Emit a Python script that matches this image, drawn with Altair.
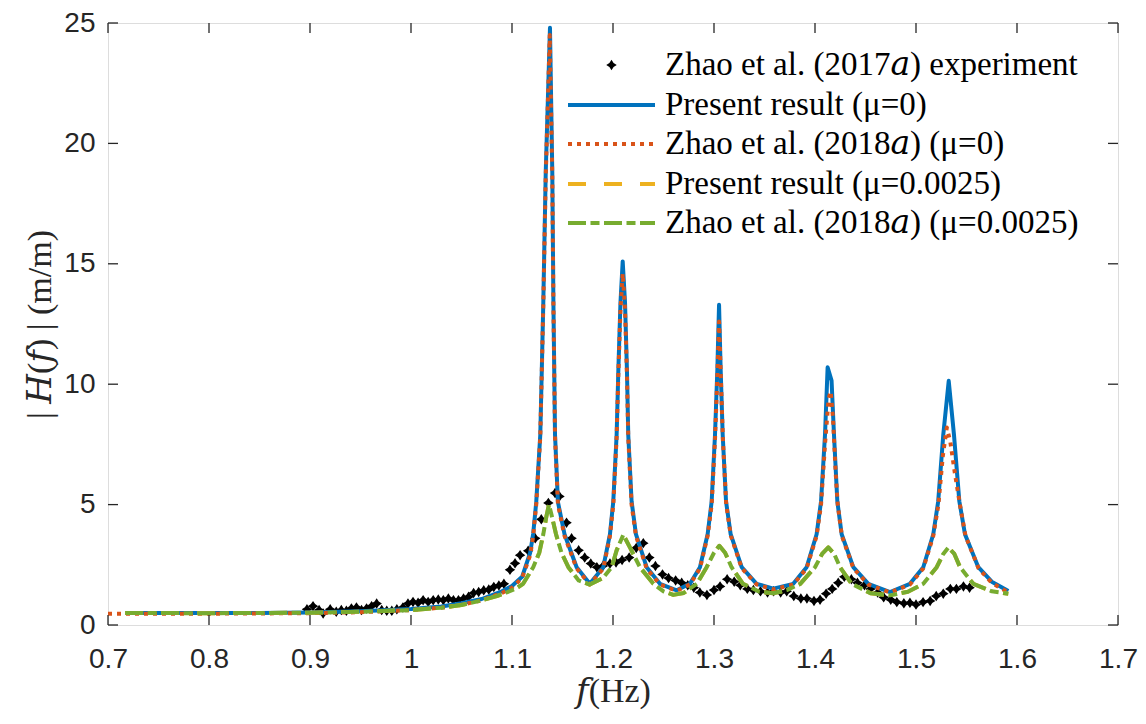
import altair as alt
import pandas as pd

# ---------------- data ----------------
# (f [Hz], |H(f)| [m/m])
experiment_2017a = [
    (0.897, 0.65), (0.903, 0.78), (0.909, 0.62), (0.913, 0.48), (0.920, 0.65), (0.926, 0.55),
    (0.931, 0.62), (0.936, 0.59), (0.941, 0.69), (0.946, 0.73), (0.951, 0.62), (0.956, 0.69),
    (0.961, 0.78), (0.966, 0.89), (0.971, 0.62), (0.976, 0.59), (0.981, 0.59), (0.986, 0.65),
    (0.992, 0.73), (0.997, 0.89), (1.002, 0.96), (1.007, 0.92), (1.012, 1.03), (1.017, 0.96),
    (1.022, 1.03), (1.027, 1.06), (1.032, 1.03), (1.037, 1.10), (1.042, 1.03), (1.047, 1.03),
    (1.052, 1.10), (1.057, 1.17), (1.062, 1.33), (1.067, 1.37), (1.072, 1.44), (1.077, 1.47),
    (1.082, 1.58), (1.087, 1.64), (1.092, 1.71), (1.098, 2.29), (1.103, 2.56), (1.108, 2.90),
    (1.116, 3.08), (1.123, 3.60), (1.129, 4.39), (1.136, 5.07), (1.1426, 5.48), (1.147, 5.34),
    (1.154, 4.25), (1.159, 3.60), (1.166, 3.10), (1.172, 2.80), (1.178, 2.55), (1.184, 2.40),
    (1.190, 2.45), (1.197, 2.55), (1.203, 2.60), (1.209, 2.70), (1.216, 2.80), (1.223, 3.20),
    (1.230, 3.40), (1.236, 2.80), (1.242, 2.45), (1.249, 2.10), (1.255, 1.95), (1.262, 1.85),
    (1.268, 1.75), (1.274, 1.65), (1.280, 1.55), (1.286, 1.35), (1.293, 1.25), (1.300, 1.45),
    (1.306, 1.60), (1.313, 1.90), (1.320, 1.80), (1.326, 1.65), (1.333, 1.50), (1.339, 1.45),
    (1.346, 1.40), (1.353, 1.35), (1.359, 1.40), (1.366, 1.35), (1.372, 1.40), (1.379, 1.20),
    (1.386, 1.10), (1.392, 1.10), (1.399, 1.00), (1.405, 1.05), (1.411, 1.30), (1.417, 1.50),
    (1.423, 1.75), (1.429, 2.00), (1.436, 1.90), (1.442, 1.75), (1.449, 1.65), (1.455, 1.50),
    (1.462, 1.35), (1.468, 1.15), (1.475, 1.05), (1.481, 0.95), (1.488, 0.90), (1.494, 0.92),
    (1.500, 0.85), (1.507, 0.95), (1.514, 1.00), (1.520, 1.20), (1.527, 1.30), (1.534, 1.50),
    (1.540, 1.50), (1.547, 1.60), (1.553, 1.55),
]

present_mu0 = [
    (0.717, 0.50), (0.75, 0.50), (0.80, 0.50), (0.85, 0.50), (0.90, 0.52), (0.95, 0.57),
    (1.00, 0.66), (1.03, 0.77), (1.05, 0.90), (1.07, 1.08), (1.09, 1.40), (1.10, 1.62),
    (1.11, 2.00), (1.118, 3.00), (1.121, 3.80), (1.124, 5.10), (1.128, 7.90), (1.1295, 10.6),
    (1.131, 13.4), (1.1334, 18.8), (1.1376, 24.8), (1.1399, 18.8), (1.141, 13.4), (1.1426, 7.90),
    (1.1455, 5.10), (1.152, 3.77), (1.164, 2.40), (1.177, 1.71), (1.1904, 2.40), (1.197, 3.77),
    (1.2003, 5.14), (1.2036, 7.90), (1.2053, 10.6), (1.2074, 13.4), (1.2096, 15.1), (1.2119, 13.4),
    (1.2138, 10.6), (1.2151, 7.90), (1.2184, 5.14), (1.2227, 3.77), (1.2333, 2.40), (1.2465, 1.71),
    (1.263, 1.44), (1.2762, 1.71), (1.2861, 2.40), (1.2937, 3.77), (1.2977, 5.14), (1.301, 7.90),
    (1.3033, 10.6), (1.305, 13.3), (1.3066, 10.6), (1.3086, 7.90), (1.3119, 5.14), (1.3165, 3.77),
    (1.3274, 2.40), (1.3422, 1.71), (1.3587, 1.51), (1.3785, 1.71), (1.3917, 2.40), (1.4016, 3.77),
    (1.406, 5.14), (1.4099, 7.90), (1.4125, 10.7), (1.4164, 10.15), (1.4188, 7.90), (1.4221, 5.14),
    (1.4264, 3.77), (1.4379, 2.40), (1.4528, 1.71), (1.4743, 1.37), (1.494, 1.71), (1.5072, 2.40),
    (1.5171, 3.77), (1.522, 5.14), (1.527, 7.90), (1.5324, 10.14), (1.5376, 7.90), (1.5429, 5.14),
    (1.5485, 3.77), (1.5617, 2.40), (1.575, 1.80), (1.5914, 1.41),
]

zhao2018a_mu0 = [
    (0.700, 0.47), (0.75, 0.47), (0.80, 0.47), (0.85, 0.48), (0.90, 0.49), (0.95, 0.53),
    (1.00, 0.62), (1.03, 0.72), (1.05, 0.84), (1.07, 1.02), (1.09, 1.33), (1.10, 1.55),
    (1.11, 1.95), (1.118, 2.90), (1.121, 3.70), (1.124, 5.00), (1.128, 7.80), (1.1295, 10.5),
    (1.131, 13.3), (1.1334, 18.6), (1.1374, 24.5), (1.1399, 18.6), (1.141, 13.3), (1.1426, 7.80),
    (1.1455, 5.00), (1.152, 3.70), (1.164, 2.35), (1.177, 1.68), (1.1904, 2.35), (1.197, 3.70),
    (1.2003, 5.00), (1.2036, 7.80), (1.2053, 10.4), (1.2074, 13.1), (1.2096, 14.6), (1.2119, 13.1),
    (1.2138, 10.4), (1.2151, 7.80), (1.2184, 5.00), (1.2227, 3.70), (1.2333, 2.35), (1.2465, 1.68),
    (1.263, 1.42), (1.2762, 1.68), (1.2861, 2.35), (1.2937, 3.70), (1.2977, 5.00), (1.301, 7.70),
    (1.3033, 10.3), (1.305, 12.6), (1.3068, 10.3), (1.3088, 7.70), (1.3121, 5.00), (1.3167, 3.70),
    (1.3276, 2.35), (1.3424, 1.68), (1.3587, 1.48), (1.3785, 1.68), (1.3917, 2.35), (1.4016, 3.70),
    (1.406, 5.00), (1.4099, 7.50), (1.4135, 9.40), (1.4155, 9.70), (1.4178, 8.60), (1.4205, 6.30),
    (1.4225, 5.00), (1.4266, 3.70), (1.4381, 2.35), (1.453, 1.68), (1.4743, 1.35), (1.494, 1.68),
    (1.5072, 2.35), (1.5171, 3.70), (1.5222, 5.00), (1.5265, 7.00), (1.5305, 8.20), (1.534, 7.60),
    (1.5385, 6.30), (1.5435, 5.00), (1.549, 3.70), (1.562, 2.35), (1.575, 1.75), (1.59, 1.38),
]

present_mu0025 = [
    (0.717, 0.50), (0.80, 0.49), (0.90, 0.51), (0.95, 0.55), (1.00, 0.62), (1.03, 0.72),
    (1.05, 0.83), (1.068, 1.00), (1.085, 1.20), (1.0947, 1.35), (1.104, 1.52), (1.111, 1.71),
    (1.121, 2.40), (1.127, 3.00), (1.131, 3.77), (1.134, 4.50), (1.1366, 5.00), (1.139, 4.60),
    (1.1436, 3.77), (1.149, 3.00), (1.1558, 2.40), (1.166, 1.85), (1.177, 1.68), (1.19, 1.95),
    (1.1987, 2.40), (1.2036, 3.10), (1.2102, 3.75), (1.217, 3.20), (1.2267, 2.40), (1.24, 1.71),
    (1.25, 1.40), (1.2597, 1.25), (1.27, 1.33), (1.283, 1.71), (1.2927, 2.40), (1.30, 3.00),
    (1.3053, 3.29), (1.311, 3.00), (1.3174, 2.40), (1.3287, 1.71), (1.345, 1.38), (1.3587, 1.32),
    (1.372, 1.45), (1.3854, 1.71), (1.40, 2.40), (1.407, 2.95), (1.4132, 3.22), (1.419, 2.95),
    (1.4248, 2.40), (1.4363, 1.71), (1.455, 1.32), (1.4743, 1.23), (1.492, 1.38), (1.5072, 1.71),
    (1.5205, 2.40), (1.527, 2.95), (1.5321, 3.22), (1.538, 2.95), (1.5436, 2.40), (1.5568, 1.71),
    (1.575, 1.40), (1.5914, 1.30),
]

zhao2018a_mu0025 = [
    (0.717, 0.50), (0.80, 0.49), (0.90, 0.51), (0.95, 0.55), (1.00, 0.62), (1.03, 0.72),
    (1.05, 0.83), (1.068, 1.00), (1.085, 1.20), (1.0947, 1.35), (1.104, 1.52), (1.111, 1.71),
    (1.121, 2.40), (1.127, 3.00), (1.131, 3.77), (1.134, 4.50), (1.1366, 5.00), (1.139, 4.60),
    (1.1436, 3.77), (1.149, 3.00), (1.1558, 2.40), (1.166, 1.85), (1.177, 1.68), (1.19, 1.95),
    (1.1987, 2.40), (1.2036, 3.10), (1.2102, 3.75), (1.217, 3.20), (1.2267, 2.40), (1.24, 1.71),
    (1.25, 1.40), (1.2597, 1.25), (1.27, 1.33), (1.283, 1.71), (1.2927, 2.40), (1.30, 3.00),
    (1.3053, 3.29), (1.311, 3.00), (1.3174, 2.40), (1.3287, 1.71), (1.345, 1.38), (1.3587, 1.32),
    (1.372, 1.45), (1.3854, 1.71), (1.40, 2.40), (1.407, 2.95), (1.4132, 3.22), (1.419, 2.95),
    (1.4248, 2.40), (1.4363, 1.71), (1.455, 1.32), (1.4743, 1.23), (1.492, 1.38), (1.5072, 1.71),
    (1.5205, 2.40), (1.527, 2.95), (1.5321, 3.22), (1.538, 2.95), (1.5436, 2.40), (1.5568, 1.71),
    (1.575, 1.40), (1.5914, 1.30),
]

x_ticks = [0.7, 0.8, 0.9, 1.0, 1.1, 1.2, 1.3, 1.4, 1.5, 1.6, 1.7]
y_ticks = [0, 5, 10, 15, 20, 25]

legend_labels = [
    "Zhao et al. (2017\U0001D44E) experiment",
    "Present result (\u03bc=0)",
    "Zhao et al. (2018\U0001D44E) (\u03bc=0)",
    "Present result (\u03bc=0.0025)",
    "Zhao et al. (2018\U0001D44E) (\u03bc=0.0025)",
]
x_title = "\U0001D453(Hz)"
y_title = "| \U0001D43B(\U0001D453) | (m/m)"

# ---------------- styling ----------------
W, H = 1010, 602
AX = "#262626"
SERIF = "Liberation Serif, DejaVu Serif, serif"
SANS = "Liberation Sans"
STAR = "M0,-1L0.4,-0.4L1,0L0.4,0.4L0,1L-0.4,0.4L-1,0L-0.4,-0.4Z"

line_styles = [
    (present_mu0, "#0072BD", None),
    (zhao2018a_mu0, "#D95319", [4, 5]),
    (present_mu0025, "#EDB120", [18, 18]),
    (zhao2018a_mu0025, "#77AC30", [18, 4.5, 9, 4.5]),
]

xscale = alt.Scale(domain=[0.7, 1.7], nice=False, zero=False)
yscale = alt.Scale(domain=[0, 25], nice=False)

x_axis = alt.Axis(
    values=x_ticks, format="~g", ticks=False, domain=False, grid=False,
    labelFont=SANS, labelFontSize=28, labelColor=AX, labelPadding=20,
    labelFlush=False, labelOverlap=False,
    title=x_title, titleFont=SERIF, titleFontSize=34, titleFontWeight="normal",
    titleColor=AX, titleX=W / 2, titleY=66, titleBaseline="middle", titleAlign="center",
)
y_axis = alt.Axis(
    values=y_ticks, ticks=False, domain=False, grid=False,
    labelFont=SANS, labelFontSize=28, labelColor=AX, labelPadding=13,
    labelFlush=False, labelOverlap=False,
    title=y_title, titleFont=SERIF, titleFontSize=34, titleFontWeight="normal",
    titleColor=AX, titleX=-68, titleY=H / 2, titleBaseline="middle", titleAlign="center",
    titleAngle=270,
)


def df_of(points):
    return pd.DataFrame(points, columns=["f", "H"])


def X(field):
    return alt.X(field, type="quantitative", scale=xscale, axis=x_axis)


def Y(field):
    return alt.Y(field, type="quantitative", scale=yscale, axis=y_axis)


layers = []

# experiment points
layers.append(
    alt.Chart(df_of(experiment_2017a)).mark_point(
        shape=STAR, filled=True, color="black", size=110, opacity=1
    ).encode(x=X("f"), y=Y("H"))
)

for pts, color, dash in line_styles:
    kw = dict(color=color, strokeWidth=4, strokeCap="butt", strokeJoin="round", clip=True)
    if dash:
        kw["strokeDash"] = dash
    layers.append(alt.Chart(df_of(pts)).mark_line(**kw).encode(x=X("f"), y=Y("H"), order="f:Q"))

# inside ticks (MATLAB style box with ticks on all four sides)
xt = pd.DataFrame({"f": x_ticks})
yt = pd.DataFrame({"H": y_ticks})
tick_style = dict(color=AX, strokeWidth=1.3)
layers.append(alt.Chart(xt).mark_rule(**tick_style).encode(x=X("f"), y=alt.value(H), y2=alt.value(H - 10)))
layers.append(alt.Chart(xt).mark_rule(**tick_style).encode(x=X("f"), y=alt.value(0), y2=alt.value(10)))
layers.append(alt.Chart(yt).mark_rule(**tick_style).encode(y=Y("H"), x=alt.value(0), x2=alt.value(10)))
layers.append(alt.Chart(yt).mark_rule(**tick_style).encode(y=Y("H"), x=alt.value(W), x2=alt.value(W - 10)))

# legend (top-right, no box)
leg_y = [42, 82, 121, 161, 200]
leg_x0, leg_x1, leg_tx = 460, 547, 557
for i, lab in enumerate(legend_labels):
    ldf = pd.DataFrame({"label": [lab]})
    layers.append(
        alt.Chart(ldf).mark_text(
            font=SERIF, fontSize=33, align="left", baseline="middle", color="black"
        ).encode(text="label:N", x=alt.value(leg_tx), y=alt.value(leg_y[i]))
    )
    if i == 0:
        layers.append(
            alt.Chart(ldf).mark_point(shape=STAR, filled=True, color="black", size=110, opacity=1)
            .encode(x=alt.value((leg_x0 + leg_x1) / 2), y=alt.value(leg_y[i]))
        )
    else:
        _, color, dash = line_styles[i - 1]
        kw = dict(color=color, strokeWidth=4, strokeCap="butt")
        if dash:
            kw["strokeDash"] = dash
        layers.append(
            alt.Chart(ldf).mark_rule(**kw).encode(
                x=alt.value(leg_x0), x2=alt.value(leg_x1), y=alt.value(leg_y[i])
            )
        )

chart = alt.layer(*layers).properties(
    width=W, height=H,
    autosize=alt.AutoSizeParams(type="none"),
    padding={"left": 100, "top": 15, "right": 20, "bottom": 95},
).configure_view(stroke=AX, strokeWidth=1.3).configure(background="white")

chart.save("out.html", embed_options={"renderer": "svg", "actions": False})
